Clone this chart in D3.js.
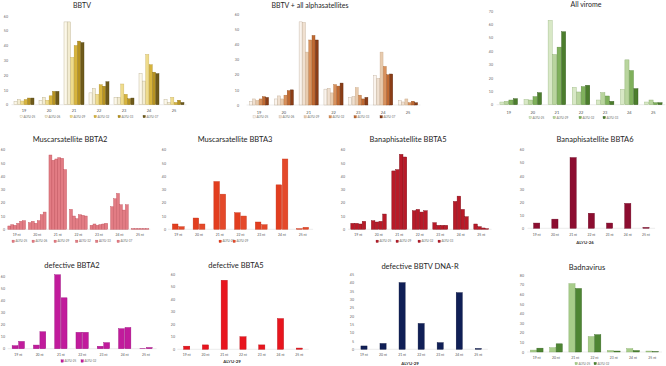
<!DOCTYPE html>
<html><head><meta charset="utf-8">
<script src="https://cdn.jsdelivr.net/npm/d3@7"></script>
<style>body{margin:0;background:#fff}svg{display:block}text{font-family:Lato,"Open Sans",sans-serif}</style>
</head><body>
<svg id="c" width="666" height="366"></svg>
<script>
// ---------- DATA ----------
const catsNum = ["19","20","21","22","23","24","25"];
const catsNt = ["19 nt","20 nt","21 nt","22 nt","23 nt","24 nt","25 nt"];

const bbtvSeries = ["ALYU-25","ALYU-26","ALYU-29","ALYU-32","ALYU-33","ALYU-37"];
const bbtvValues = [
  [2,3,56,8,5,21,3.5],
  [3.5,5,56,11,5,16,1.5],
  [2.5,3,32,7,14,34,5],
  [3.5,6,40,13.5,7,27,1.5],
  [4.5,9,43,12.5,4,22,3],
  [4.5,9,42,15.5,4.5,21,1.5]
];
const alphaSeries = ["ALYU-25","ALYU-26","ALYU-29","ALYU-32","ALYU-33","ALYU-37"];
const alphaValues = [
  [2.5,4,55,10.5,5,19.5,3],
  [4,6,54.5,11,5.5,17.5,2],
  [3,4,35,8,11.5,35,4],
  [4,6.5,43,13.5,6.5,25.5,1.5],
  [5.5,9.5,46,12.5,4,20,2.5],
  [5,10,43,14.5,5,20.5,1.5]
];
const viromeSeries = ["ALYU-25","ALYU-29","ALYU-32","ALYU-33"];
const viromeValues = [
  [2,4,63,13,3.5,11.5,2],
  [2.5,3.5,37.5,9.5,9,33.5,3.5],
  [3.5,6,43,13.5,6.5,25.5,1.5],
  [4.5,9,54.5,14.5,2.5,12,1.5]
];
const bbta2Series = ["ALYU-25","ALYU-26","ALYU-29","ALYU-32","ALYU-33","ALYU-37"];
const bbta2Values = [
  [2.5,5,56,15,3,17,0.5],
  [3.5,6,52,10,4,23,0.5],
  [3,4.5,53,8,3,27,0.5],
  [4.5,6.5,54,11,3.5,18.5,0.5],
  [6,11,53.5,10.5,4,14.5,0.5],
  [6.5,13,45,10,4.5,18.5,0.5]
];
const bbta3Series = ["ALYU-25","ALYU-29"];
const bbta3Values = [
  [4,8.5,36,12.5,5.5,33.5,0.5],
  [2,4,26.5,10,3.5,53,1.5]
];
const bbta5Series = ["ALYU-25","ALYU-29","ALYU-32","ALYU-33"];
const bbta5Values = [
  [4.5,6.5,44,14,5,21,4],
  [4.5,5.5,45,15,3,25,2],
  [4,6,56.5,13,3,15,1],
  [6,11.5,54.5,14,3,9.5,0.5]
];
const bbta6Series = ["ALYU-26"];
const bbta6Values = [[4,7,54,11.5,4,19,0.7]];
const defBbta2Series = ["ALYU-25","ALYU-32"];
const defBbta2Values = [
  [2.5,3,61,13.5,2,16.5,0.3],
  [6,14,42,13.5,5,17.5,1]
];
const defBbta5Series = ["ALYU-29"];
const defBbta5Values = [[2.5,3.5,55,10,3.5,24.5,1]];
const defDnaRSeries = ["ALYU-29"];
const defDnaRValues = [[2,3.5,40,15.5,4,34,0.5]];
const badnaSeries = ["ALYU-25","ALYU-32"];
const badnaValues = [
  [2,4.5,71,16,1.5,3.5,1],
  [4,8.5,66,18,1,1.5,0.3]
];

// ---------- LAYOUT / STYLE ----------
const panels = [
  {title:"BBTV", cats:catsNum, series:bbtvSeries, values:bbtvValues,
   c0:24, c6:174, y0:104.7, yT:16, max:60, step:10, tickX:8, catY:112, titleX:82, titleY:8, tsize:7,
   pad:0.2, legend:{y:117.5, xs:[20,45,70,94,118,143]},
   fills:["#fcf8ea","#f3ecd0","#efdc8c","#d7b43c","#b79320","#6f5b1b"],
   strokes:["#b8ad8c","#b8ad8c","#c9b060","#b0902a","#8f7218","#4f4010"], top:true},
  {title:"BBTV + all alphasatellites", cats:catsNum, series:alphaSeries, values:alphaValues,
   c0:259, c6:408, y0:105, yT:14.3, max:60, step:10, tickX:239, catY:113.5, titleX:310, titleY:8, tsize:7,
   pad:0.23, legend:{y:117.8, xs:[253,279,304,329,354,380]},
   fills:["#faf3ec","#f0e0d0","#e8cbae","#d9915c","#c06a32","#8b3d16"],
   strokes:["#bfae9c","#bfa890","#c8a888","#b0703c","#944e20","#5c260a"], top:true},
  {title:"All virome", cats:catsNum, series:viromeSeries, values:viromeValues,
   c0:508.7, c6:653.3, y0:104.7, yT:11, max:70, step:10, tickX:493, catY:113.5, titleX:586, titleY:7, tsize:7,
   pad:0.27, legend:{y:118.5, xs:[529,553,579,603]},
   fills:["#d8e8c6","#b9d59e","#7fb05b","#4c7d2d"],
   strokes:["#9dba84","#8aab6c","#5a8a3c","#345a1c"], top:true},
  {title:"Muscarsatellite BBTA2", cats:catsNt, series:bbta2Series, values:bbta2Values,
   c0:16.7, c6:140, y0:229.3, yT:149.7, max:60, step:10, tickX:5, catY:236, titleX:70, titleY:142, tsize:7.5,
   pad:0.14, inner:0.0, legend:{y:242.3, xs:[12,32,54,75.5,95.5,117]},
   fills:["#e27c84"], strokes:["#c0505a"]},
  {title:"Muscarsatellite BBTA3", cats:catsNt, series:bbta3Series, values:bbta3Values,
   c0:178.3, c6:302.7, y0:229.3, yT:149.7, max:60, step:10, tickX:166, catY:236, titleX:235, titleY:142, tsize:7.5,
   pad:0.43, inner:0.1, legend:{y:242.3, xs:[219,233]},
   fills:["#e23e1f","#e4492a"], strokes:["#c42e12","#c63a1c"]},
  {title:"Banaphisatellite BBTA5", cats:catsNt, series:bbta5Series, values:bbta5Values,
   c0:358.3, c6:481.3, y0:229.3, yT:149.7, max:60, step:10, tickX:345, catY:236, titleX:408, titleY:142, tsize:7.5,
   pad:0.27, inner:0.05, legend:{y:242.3, xs:[376,396,418,438]},
   fills:["#b81a28"], strokes:["#7a0c16"]},
  {title:"Banaphisatellite BBTA6", cats:catsNt, series:bbta6Series, values:bbta6Values,
   c0:536.7, c6:646, y0:228.3, yT:149.7, max:60, step:10, tickX:524, catY:235.5, titleX:595, titleY:142, tsize:7.5,
   pad:0.63, single:{x:585, y:243.5},
   fills:["#8c0d30"], strokes:["#6a0622"]},
  {title:"defective BBTA2", cats:catsNt, series:defBbta2Series, values:defBbta2Values,
   c0:18.3, c6:146, y0:348.7, yT:276, max:60, step:10, tickX:5, catY:356, titleX:72, titleY:268, tsize:7.5,
   pad:0.42, inner:0.1, legend:{y:362, xs:[61,81]},
   fills:["#c11b9c"], strokes:["#9a0c7c"]},
  {title:"defective BBTA5", cats:catsNt, series:defBbta5Series, values:defBbta5Values,
   c0:186.7, c6:299.3, y0:349.3, yT:274, max:60, step:10, tickX:175, catY:356, titleX:236, titleY:268, tsize:7.5,
   pad:0.64, single:{x:232, y:363},
   fills:["#e8151e"], strokes:["#b80c12"]},
  {title:"defective BBTV DNA-R", cats:catsNt, series:defDnaRSeries, values:defDnaRValues,
   c0:364, c6:478.3, y0:349.3, yT:274.3, max:45, step:5, tickX:354, catY:356, titleX:420, titleY:268.5, tsize:7.5,
   pad:0.65, single:{x:410, y:364.5},
   fills:["#101f56"], strokes:["#08123c"]},
  {title:"Badnavirus", cats:catsNt, series:badnaSeries, values:badnaValues,
   c0:536.7, c6:652.3, y0:352, yT:275, max:80, step:10, tickX:524, catY:359, titleX:587, titleY:270, tsize:7.5,
   pad:0.34, inner:0.05, legend:{y:364.5, xs:[575,594]},
   fills:["#a8cd8a","#4e8533"], strokes:["#86ad6a","#33641e"]}
];

const svg = d3.select("#c");

panels.forEach(p => {
  const n = p.cats.length;
  const stepPx = (p.c6 - p.c0) / (n - 1);
  const x0 = d3.scaleBand().domain(p.cats)
    .range([p.c0 - stepPx/2, p.c6 + stepPx/2])
    .paddingInner(p.pad).paddingOuter(p.pad/2);
  const x1 = d3.scaleBand().domain(p.series).range([0, x0.bandwidth()])
    .paddingInner(p.inner !== undefined ? p.inner : 0.08);
  const y = d3.scaleLinear().domain([0, p.max]).range([p.y0, p.yT]);
  const g = svg.append("g");

  // title
  g.append("text").attr("x", p.titleX).attr("y", p.titleY)
    .attr("text-anchor","middle").attr("font-size", p.tsize)
    .attr("fill","#262626").text(p.title);

  // y axis ticks (labels only)
  const yAxis = d3.axisLeft(y).tickValues(d3.range(0, p.max + 0.001, p.step))
    .tickSize(0).tickPadding(0);
  const ya = g.append("g").attr("transform", `translate(${p.tickX},0)`).call(yAxis);
  ya.select(".domain").remove();
  ya.selectAll("text").attr("font-size", 3.6).attr("fill","#666")
    .attr("font-family","Lato,'Open Sans',sans-serif").attr("dy","0.32em");

  // baseline
  g.append("line").attr("x1", x0.range()[0]).attr("x2", x0.range()[1])
    .attr("y1", p.y0).attr("y2", p.y0).attr("stroke","#d9d9d9").attr("stroke-width",0.5);

  // x axis labels
  const xAxis = d3.axisBottom(x0).tickSize(0).tickPadding(0);
  const xa = g.append("g").attr("transform", `translate(0,${p.catY})`).call(xAxis);
  xa.select(".domain").remove();
  xa.selectAll("text").attr("font-size", p.top ? 4 : 3.4).attr("fill","#555")
    .attr("font-family","Lato,'Open Sans',sans-serif").attr("dy","0");

  // bars
  p.series.forEach((s, si) => {
    const fill = p.fills[si % p.fills.length];
    const stroke = p.strokes[si % p.strokes.length];
    g.append("g").selectAll("rect").data(p.values[si]).join("rect")
      .attr("x", (d, i) => x0(p.cats[i]) + x1(s))
      .attr("y", d => y(d))
      .attr("width", x1.bandwidth())
      .attr("height", d => p.y0 - y(d))
      .attr("fill", fill).attr("stroke", stroke).attr("stroke-width", 0.4);
  });

  // legend
  if (p.legend) {
    p.series.forEach((s, si) => {
      const lx = p.legend.xs[si];
      g.append("rect").attr("x", lx).attr("y", p.legend.y - 2.2).attr("width", 2.4).attr("height", 2.4)
        .attr("fill", p.fills[si % p.fills.length]).attr("stroke", p.strokes[si % p.strokes.length]).attr("stroke-width",0.3);
      g.append("text").attr("x", lx + 3.4).attr("y", p.legend.y).attr("font-size", 3)
        .attr("fill","#666").text(s);
    });
  }
  if (p.single) {
    g.append("text").attr("x", p.single.x).attr("y", p.single.y).attr("text-anchor","middle")
      .attr("font-size", 4.4).attr("font-weight","bold").attr("fill","#333").text(p.series[0]);
  }
});
</script>
</body></html>
